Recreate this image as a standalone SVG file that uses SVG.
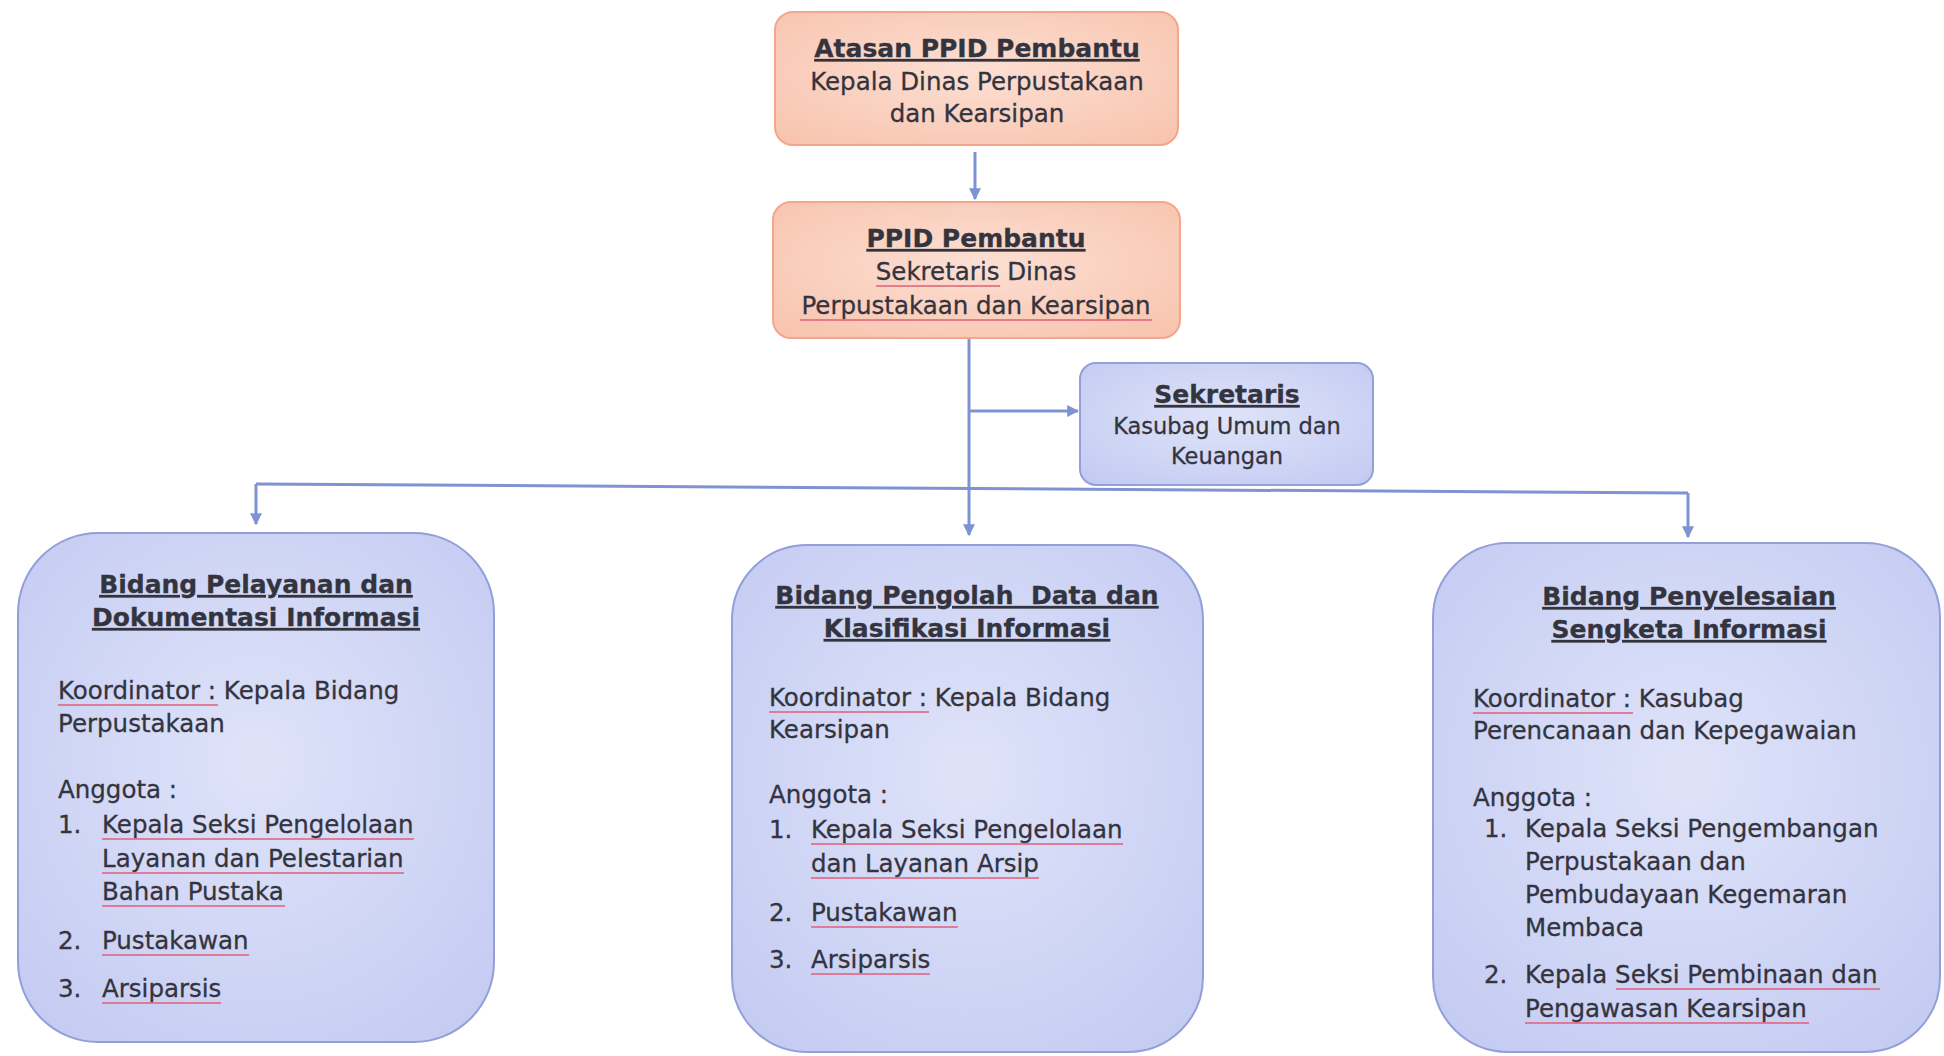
<svg xmlns="http://www.w3.org/2000/svg" width="1944" height="1056" viewBox="0 0 1944 1056">
<defs>
  <radialGradient id="gBlue" cx="50%" cy="45%" r="70%">
    <stop offset="0" stop-color="#dfe3f9"/>
    <stop offset="1" stop-color="#c4cbf2"/>
  </radialGradient>
  <radialGradient id="gSalmon" cx="50%" cy="45%" r="70%">
    <stop offset="0" stop-color="#fcdfd3"/>
    <stop offset="1" stop-color="#f8c4ae"/>
  </radialGradient>
  <marker id="arr" viewBox="0 0 10 10" refX="9" refY="5" markerWidth="4" markerHeight="4" orient="auto" markerUnits="strokeWidth">
    <path d="M0,0 L10,5 L0,10 z" fill="#7f93d2"/>
  </marker>
</defs>
<style>
  .t{font-family:"DejaVu Sans",Verdana,sans-serif;fill:#34343e;stroke:#34343e;stroke-width:0.3px;}
  .h{font-weight:bold;font-size:25px;text-decoration:underline;}
  .b{font-size:24.5px;}
  .s{font-size:22.5px;}
  .c{text-anchor:middle;}
  .sp{stroke:#e0607a;stroke-width:1.6;fill:none;}
  .con{stroke:#7f93d2;stroke-width:3;fill:none;}
  .bx{fill:url(#gBlue);stroke:#939fd9;stroke-width:2;}
  .sx{fill:url(#gSalmon);stroke:#f3a68c;stroke-width:2;}
</style>

<g id="connectors">
  <path class="con" d="M975,152 V199" marker-end="url(#arr)"/>
  <path class="con" d="M969,338 V535" marker-end="url(#arr)"/>
  <path class="con" d="M969,411 H1078" marker-end="url(#arr)"/>
  <path class="con" d="M256,484 L1688,493"/>
  <path class="con" d="M256,484 V524" marker-end="url(#arr)"/>
  <path class="con" d="M1688,493 V537" marker-end="url(#arr)"/>
</g>

<g id="atasan">
  <rect class="sx" x="775" y="12" width="403" height="133" rx="18"/>
  <text class="t h c" x="977" y="57">Atasan PPID Pembantu</text>
  <text class="t b c" x="977" y="90">Kepala Dinas Perpustakaan</text>
  <text class="t b c" x="977" y="122">dan Kearsipan</text>
</g>

<g id="ppid">
  <rect class="sx" x="773" y="202" width="407" height="136" rx="18"/>
  <text class="t h c" x="976" y="247">PPID Pembantu</text>
  <text class="t b c" x="976" y="280">Sekretaris Dinas</text>
  <text class="t b c" x="976" y="314">Perpustakaan dan Kearsipan</text>
  <path class="sp" d="M876,286 H1000 M800,320 H1152"/>
</g>

<g id="sekretaris">
  <rect class="bx" x="1080" y="363" width="293" height="122" rx="16"/>
  <text class="t h c" x="1227" y="403">Sekretaris</text>
  <text class="t s c" x="1227" y="434">Kasubag Umum dan</text>
  <text class="t s c" x="1227" y="464">Keuangan</text>
</g>

<g id="bidang-pelayanan">
  <rect class="bx" x="18" y="533" width="476" height="509" rx="80"/>
  <text class="t h c" x="256" y="593">Bidang Pelayanan dan</text>
  <text class="t h c" x="256" y="626">Dokumentasi Informasi</text>
  <text class="t b" x="58" y="699">Koordinator : Kepala Bidang</text>
  <text class="t b" x="58" y="732">Perpustakaan</text>
  <text class="t b" x="58" y="798">Anggota :</text>
  <text class="t b" x="58" y="833">1.</text>
  <text class="t b" x="102" y="833">Kepala Seksi Pengelolaan</text>
  <text class="t b" x="102" y="867">Layanan dan Pelestarian</text>
  <text class="t b" x="102" y="900">Bahan Pustaka</text>
  <text class="t b" x="58" y="949">2.</text>
  <text class="t b" x="102" y="949">Pustakawan</text>
  <text class="t b" x="58" y="997">3.</text>
  <text class="t b" x="102" y="997">Arsiparsis</text>
  <path class="sp" d="M58,705 H218 M102,839 H414 M102,873 H404 M102,906 H285 M102,955 H249 M102,1003 H221"/>
</g>

<g id="bidang-pengolah">
  <rect class="bx" x="732" y="545" width="471" height="507" rx="75"/>
  <text class="t h c" x="967" y="604" xml:space="preserve">Bidang Pengolah  Data dan</text>
  <text class="t h c" x="967" y="637">Klasifikasi Informasi</text>
  <text class="t b" x="769" y="706">Koordinator : Kepala Bidang</text>
  <text class="t b" x="769" y="738">Kearsipan</text>
  <text class="t b" x="769" y="803">Anggota :</text>
  <text class="t b" x="769" y="838">1.</text>
  <text class="t b" x="811" y="838">Kepala Seksi Pengelolaan</text>
  <text class="t b" x="811" y="872">dan Layanan Arsip</text>
  <text class="t b" x="769" y="921">2.</text>
  <text class="t b" x="811" y="921">Pustakawan</text>
  <text class="t b" x="769" y="968">3.</text>
  <text class="t b" x="811" y="968">Arsiparsis</text>
  <path class="sp" d="M769,712 H929 M811,844 H1123 M811,878 H1039 M811,927 H958 M811,974 H930"/>
</g>

<g id="bidang-sengketa">
  <rect class="bx" x="1433" y="543" width="507" height="509" rx="75"/>
  <text class="t h c" x="1689" y="605">Bidang Penyelesaian</text>
  <text class="t h c" x="1689" y="638">Sengketa Informasi</text>
  <text class="t b" x="1473" y="707">Koordinator : Kasubag</text>
  <text class="t b" x="1473" y="739">Perencanaan dan Kepegawaian</text>
  <text class="t b" x="1473" y="806">Anggota :</text>
  <text class="t b" x="1484" y="837">1.</text>
  <text class="t b" x="1525" y="837">Kepala Seksi Pengembangan</text>
  <text class="t b" x="1525" y="870">Perpustakaan dan</text>
  <text class="t b" x="1525" y="903">Pembudayaan Kegemaran</text>
  <text class="t b" x="1525" y="936">Membaca</text>
  <text class="t b" x="1484" y="983">2.</text>
  <text class="t b" x="1525" y="983">Kepala Seksi Pembinaan dan</text>
  <text class="t b" x="1525" y="1017">Pengawasan Kearsipan</text>
  <path class="sp" d="M1473,713 H1633 M1616,989 H1880 M1525,1023 H1809"/>
</g>
</svg>
